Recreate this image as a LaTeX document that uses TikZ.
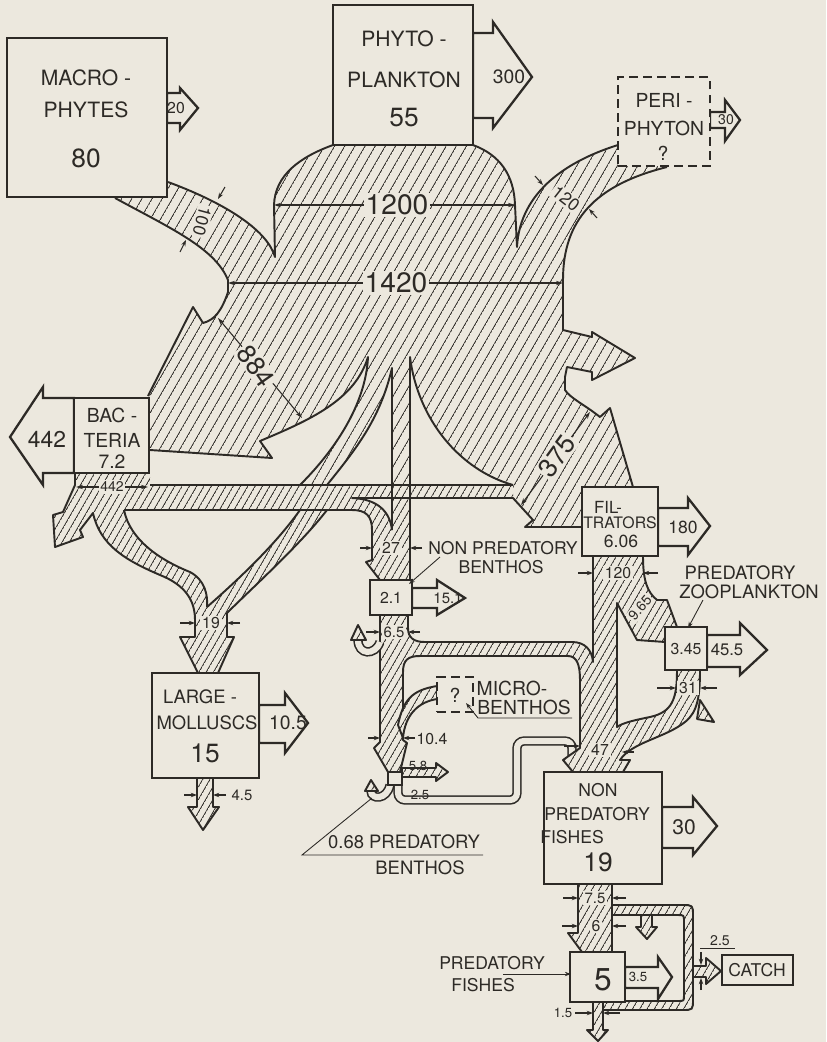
\documentclass[tikz,border=0pt]{standalone}
\usepackage{fontspec}
\setmainfont{TeX Gyre Heros}
\usetikzlibrary{arrows.meta, patterns.meta}
\definecolor{ink}{RGB}{45,42,38}
\definecolor{paper}{RGB}{236,232,222}
\tikzdeclarepattern{
    name=hatch,
    parameters={
        \pgfkeysvalueof{/pgf/pattern keys/size},
        \pgfkeysvalueof{/pgf/pattern keys/angle},
        \pgfkeysvalueof{/pgf/pattern keys/line width},
    },
    bounding box={
        (0,-0.5*\pgfkeysvalueof{/pgf/pattern keys/line width}) and
        (\pgfkeysvalueof{/pgf/pattern keys/size},
         0.5*\pgfkeysvalueof{/pgf/pattern keys/line width})},
    tile size={(\pgfkeysvalueof{/pgf/pattern keys/size},
        \pgfkeysvalueof{/pgf/pattern keys/size})},
    tile transformation={rotate=\pgfkeysvalueof{/pgf/pattern keys/angle}},
    defaults={
        size/.initial=5pt,
        angle/.initial=60,
        line width/.initial=.5pt,
    },
    code={
        \draw[line width=\pgfkeysvalueof{/pgf/pattern keys/line width}]
            (0,0) -- (\pgfkeysvalueof{/pgf/pattern keys/size},0);
    },
}
\tikzset{
    hatchfill/.style={pattern={hatch[size=5pt]}, pattern color=ink},
    bandfill/.style={pattern={hatch[size=3.6pt]}, pattern color=ink},
    rim/.style={draw=ink, line width=1.1pt, line join=round},
    flow/.style={draw=ink, line width=1.1pt, line join=round, preaction={fill=paper},
        pattern={hatch[size=3.6pt]}, pattern color=ink},
    box/.style={draw=ink, line width=1.6pt, fill=paper, inner sep=0pt},
    dashbox/.style={box, dash pattern=on 5pt off 3pt},
    outarrow/.style={draw=ink, line width=1.3pt, fill=paper, line join=miter},
    tube/.style={draw=ink, line width=0.9pt, double=paper, double distance=3.5pt},
    lbl/.style={text=ink, inner sep=0pt, font=\fontsize{#1}{#1}\selectfont},
    tag/.style={lbl=#1, fill=paper, inner sep=1pt},
    wtick/.style={draw=ink, line width=0.6pt, -{Stealth[length=3.5pt,width=2.5pt]}},
    dimline/.style={draw=ink, line width=0.6pt,
        {Stealth[length=4pt,width=2.5pt]}-{Stealth[length=4pt,width=2.5pt]}},
    leader/.style={draw=ink, line width=0.5pt, -{Stealth[length=3.5pt,width=2.5pt]}},
    hair/.style={draw=ink, line width=0.5pt}
}
\begin{document}
\begin{tikzpicture}[x=0.02cm, y=-0.02cm]
    \useasboundingbox (0,0) rectangle (826,1042);
    \fill[paper] (0,0) rectangle (826,1042);

    % big hatched flows
    \fill[hatchfill] (333,145) .. controls (300,157) and (275,175) .. (274,205) -- (275,257)
        .. controls (268,232) and (230,205) .. (168,182) -- (168,198) -- (115,198)
        .. controls (170,228) and (215,248) .. (228,280) -- (228,292)
        .. controls (222,310) and (215,320) .. (203,323) -- (193,307) -- (148,396) -- (150,396)
        -- (150,450) -- (272,458) -- (260,441) .. controls (310,420) and (355,400) .. (368,357)
        .. controls (366,400) and (340,445) .. (300,485) -- (327,485)
        .. controls (355,450) and (380,420) .. (392,368) -- (392,485) -- (410,485) -- (410,357)
        .. controls (418,420) and (460,470) .. (513,485) -- (513,498) -- (533,520) -- (525,527)
        -- (582,527) -- (582,487) -- (633,487) -- (610,408) -- (600,417)
        .. controls (585,405) and (570,398) .. (565,390) -- (565,377) -- (567,367) -- (592,372)
        -- (592,380) -- (635,358) -- (592,332) -- (592,337) -- (563,330) -- (563,280)
        .. controls (563,220) and (595,185) .. (667,167) -- (667,158) -- (625,158) -- (625,145)
        -- (618,145) .. controls (570,160) and (520,190) .. (517,247) -- (515,205)
        .. controls (514,175) and (500,155) .. (473,145) -- cycle;
    \fill[bandfill, even odd rule] (75,473) -- (150,473) -- (150,485) -- (513,485) -- (513,498)
        -- (410,498) -- (410,580) -- (380,580) -- (366,562) -- (372,560) -- (372,530)
        .. controls (372,516) and (366,510) .. (352,510) -- (327,510)
        .. controls (300,545) and (250,590) .. (227,613) -- (227,637) -- (234,637) -- (218,673)
        -- (198,673) -- (180,637) -- (195,637) -- (195,620)
        .. controls (195,600) and (185,585) .. (160,575) .. controls (125,560) and (100,545) .. (93,513)
        -- (80,530) -- (83,537) -- (55,547) -- (53,515) -- (63,512) -- (75,485) -- cycle
        (124,510) -- (300,510) .. controls (275,545) and (240,578) .. (207,607)
        .. controls (208,595) and (205,580) .. (190,572) .. controls (160,560) and (130,540) .. (124,510) -- cycle
        (352,498) -- (392,498) -- (392,530) .. controls (390,512) and (378,499) .. (352,498) -- cycle;

    \draw[rim] (333,145) .. controls (300,157) and (275,175) .. (274,205) -- (275,257)
        .. controls (268,232) and (230,205) .. (168,182);
    \draw[rim] (115,198) .. controls (170,228) and (215,248) .. (228,280) -- (228,292)
        .. controls (222,310) and (215,320) .. (203,323) -- (193,307) -- (148,396);
    \draw[rim] (150,450) -- (272,458) -- (260,441) .. controls (310,420) and (355,400) .. (368,357)
        .. controls (366,400) and (340,445) .. (300,485);
    \draw[rim] (327,485) .. controls (355,450) and (380,420) .. (392,368) -- (392,530);
    \draw[rim] (410,580) -- (410,357) .. controls (418,420) and (460,470) .. (513,485);
    \draw[rim] (150,485) -- (513,485);
    \draw[rim] (124,510) -- (352,510) .. controls (366,510) and (372,516) .. (372,530) -- (372,560)
        -- (366,562) -- (380,580);
    \draw[rim] (392,530) .. controls (390,512) and (378,499) .. (352,498) -- (513,498) -- (533,520)
        -- (525,527) -- (582,527);
    \draw[rim] (300,510) .. controls (275,545) and (240,578) .. (207,607);
    \draw[rim] (327,510) .. controls (300,545) and (250,590) .. (227,613) -- (227,637) -- (234,637)
        -- (218,673);
    \draw[rim] (124,510) .. controls (130,540) and (160,560) .. (190,572)
        .. controls (205,580) and (208,595) .. (207,607);
    \draw[rim] (198,673) -- (180,637) -- (195,637) -- (195,620)
        .. controls (195,600) and (185,585) .. (160,575) .. controls (125,560) and (100,545) .. (93,513)
        -- (80,530) -- (83,537) -- (55,547) -- (53,515) -- (63,512) -- (75,485) -- (75,473);
    \draw[rim] (633,487) -- (610,408) -- (600,417) .. controls (585,405) and (570,398) .. (565,390)
        -- (565,377) -- (567,367) -- (592,372) -- (592,380) -- (635,358) -- (592,332) -- (592,337)
        -- (563,330) -- (563,280) .. controls (563,220) and (595,185) .. (667,167);
    \draw[rim] (618,145) .. controls (570,160) and (520,190) .. (517,247) -- (515,205)
        .. controls (514,175) and (500,155) .. (473,145);

    \draw[dimline] (274,205) -- (515,205);
    \node[tag=16pt] (l1200) at (397,205) {1200};
    \draw[dimline] (228,283) -- (563,283);
    \node[tag=16pt] (l1420) at (396,283) {1420};
    \draw[dimline] (218,318) -- (302,418);
    \node[tag=15pt, rotate=-55] (l884) at (256,366) {884};
    \draw[dimline] (590,412) -- (521,505);
    \node[tag=15pt, rotate=54] (l375) at (557,456) {375};
    \draw[wtick] (225,187) -- (218,199);
    \draw[wtick] (180,252) -- (186,240);
    \node[tag=10pt, rotate=-105] (l100) at (202,221) {100};
    \draw[wtick] (535,176) -- (543,185);
    \draw[wtick] (597,218) -- (589,209);
    \node[tag=10pt, rotate=-38] (l120a) at (566,199) {120};
    \draw[dimline] (76,487) -- (148,487);
    \node[tag=8pt] (l442b) at (112,487) {442};

    % flows of the lower part
    \draw[tube, rounded corners=4pt] (398,785) |- (517,800) -- (517,741) -- (572,741) -- (572,756);
    \draw[flow] (593,556) -- (593,662) .. controls (592,650) and (585,642) .. (572,642) -- (425,642)
        .. controls (414,642) and (408,638) .. (408,628) -- (408,615) -- (380,615) -- (380,742)
        -- (374,748) -- (388,772) -- (400,772) -- (407,743) -- (403,740) -- (403,672)
        .. controls (403,660) and (408,656) .. (420,656) -- (568,656)
        .. controls (577,656) and (580,665) .. (580,680) -- (580,748) -- (563,760) -- (573,772)
        -- (623,772) -- (630,760) -- (620,760) .. controls (632,742) and (665,738) .. (685,722)
        .. controls (698,712) and (700,695) .. (700,670) -- (677,670)
        .. controls (677,700) and (672,712) .. (650,717) .. controls (635,720) and (622,723) .. (617,727)
        -- (617,603) -- (637,640) -- (665,642) -- (665,627) -- (677,627) -- (667,600) -- (657,600)
        .. controls (647,592) and (643,580) .. (643,556) -- cycle;
    \draw[flow] (437,686) .. controls (412,690) and (403,700) .. (398,725) -- (403,738)
        .. controls (405,715) and (418,702) .. (437,699) -- cycle;
    \draw[tube] (380,642) .. controls (375,656) and (358,655) .. (358,640);
    \draw[flow] (351,640) -- (358,625) -- (366,640) -- cycle;
    \draw[tube] (390,785) .. controls (387,800) and (371,800) .. (371,791);
    \draw[flow] (365,791) -- (371,780) -- (378,791) -- cycle;
    \draw[flow] (402,768) -- (436,768) -- (436,763) -- (448,772) -- (436,781) -- (436,777)
        -- (402,777) -- cycle;
    \draw[flow] (197,778) -- (197,807) -- (188,807) -- (203,830) -- (219,807) -- (213,807)
        -- (213,778) -- cycle;
    \draw[flow] (578,884) -- (578,933) -- (568,933) -- (582,952) -- (612,952) -- (612,884) -- cycle;
    \draw[flow] (593,1002) -- (593,1030) -- (587,1030) -- (598,1041) -- (608,1030) -- (603,1030)
        -- (603,1002) -- cycle;
    \draw[flow] (612,905) -- (682,905) .. controls (693,905) .. (693,916) -- (693,999)
        .. controls (693,1010) .. (682,1010) -- (603,1010) -- (603,1001) -- (678,1001)
        .. controls (684,1001) .. (684,995) -- (684,922) .. controls (684,915) .. (678,915)
        -- (612,915) -- cycle;
    \draw[flow] (641,915) -- (641,927) -- (636,927) -- (647,939) -- (657,927) -- (652,927)
        -- (652,915) -- cycle;
    \draw[flow] (693,966) -- (706,966) -- (706,958) -- (721,971) -- (706,984) -- (706,977)
        -- (693,977) -- cycle;
    \draw[flow] (700,700) -- (714,722) -- (697,719) -- cycle;

    % outputs
    \draw[outarrow] (167,93) -- (180,93) -- (180,88) -- (198,108) -- (180,130) -- (180,123) -- (167,123) -- cycle;
    \draw[outarrow] (473,33) -- (493,33) -- (493,22) -- (532,77) -- (493,128) -- (493,118) -- (473,118) -- cycle;
    \draw[outarrow] (710,112) -- (725,112) -- (725,100) -- (740,120) -- (725,141) -- (725,128) -- (710,128) -- cycle;
    \draw[outarrow] (74,398) -- (43,398) -- (43,387) -- (10,437) -- (43,485) -- (43,473) -- (74,473) -- cycle;
    \draw[outarrow] (658,508) -- (688,508) -- (688,498) -- (710,526) -- (688,555) -- (688,546) -- (658,546) -- cycle;
    \draw[outarrow] (412,588) -- (437,588) -- (437,580) -- (465,598) -- (437,615) -- (437,608) -- (412,608) -- cycle;
    \draw[outarrow] (259,705) -- (285,705) -- (285,693) -- (308,723) -- (285,753) -- (285,743) -- (259,743) -- cycle;
    \draw[outarrow] (707,635) -- (740,635) -- (740,623) -- (767,650) -- (740,675) -- (740,667) -- (707,667) -- cycle;
    \draw[outarrow] (662,807) -- (693,807) -- (693,797) -- (717,826) -- (693,855) -- (693,848) -- (662,848) -- cycle;
    \draw[outarrow] (625,967) -- (658,967) -- (658,957) -- (672,977) -- (658,999) -- (658,988) -- (625,988) -- cycle;

    % compartments
    \node[box, minimum width=3.2cm, minimum height=3.18cm] (macro) at (87,117.5) {};
    \node[box, minimum width=2.8cm, minimum height=2.8cm] (phyto) at (403,75) {};
    \node[dashbox, minimum width=1.84cm, minimum height=1.78cm] (peri) at (664,121.5) {};
    \node[box, minimum width=1.5cm, minimum height=1.5cm] (bact) at (111.5,435.5) {};
    \node[box, minimum width=1.52cm, minimum height=1.38cm] (filt) at (620,521.5) {};
    \node[box, minimum width=0.84cm, minimum height=0.7cm] (nbenth) at (391,597.5) {};
    \node[box, minimum width=2.14cm, minimum height=2.1cm] (moll) at (205.5,725.5) {};
    \node[dashbox, line width=1.3pt, minimum width=0.72cm, minimum height=0.7cm] (micro) at (455,694.5) {};
    \node[box, line width=1.3pt, minimum width=0.28cm, minimum height=0.26cm] (pbenth) at (395,778.5) {};
    \node[box, minimum width=0.84cm, minimum height=0.86cm] (pzoo) at (686,648.5) {};
    \node[box, minimum width=2.36cm, minimum height=2.24cm] (npf) at (603,828) {};
    \node[box, minimum width=1.1cm, minimum height=1.0cm] (pf) at (597.5,977) {};
    \node[box, line width=1.3pt, minimum width=1.42cm, minimum height=0.6cm] (catch) at (757.5,970) {};

    \node[lbl=12pt] (tmacro1) at (86,78) {MACRO -};
    \node[lbl=12pt] (tmacro2) at (86,110) {PHYTES};
    \node[lbl=15pt] (tmacro3) at (86,158) {80};
    \node[lbl=12pt] (tphyto1) at (404,39) {PHYTO -};
    \node[lbl=12pt] (tphyto2) at (404,80) {PLANKTON};
    \node[lbl=15pt] (tphyto3) at (404,118) {55};
    \node[lbl=11pt] (t300) at (509,77) {300};
    \node[lbl=9pt] (t20) at (176,108) {20};
    \node[lbl=11pt] (tperi1) at (664,100) {PERI -};
    \node[lbl=11pt] (tperi2) at (664,128) {PHYTON};
    \node[lbl=11pt] (tperi3) at (663,153) {?};
    \node[lbl=8pt] (t30p) at (726,120) {30};
    \node[lbl=11pt] (tbac1) at (112,415) {BAC -};
    \node[lbl=11pt] (tbac2) at (112,440) {TERIA};
    \node[lbl=11pt] (tbac3) at (112,462) {7.2};
    \node[lbl=13pt] (t442) at (47,439) {442};
    \node[lbl=10.5pt] (tmol1) at (200,697) {LARGE -};
    \node[lbl=10.5pt] (tmol2) at (207,723) {MOLLUSCS};
    \node[lbl=15pt] (tmol3) at (205,753) {15};
    \node[lbl=11pt] (t105) at (288,723) {10.5};
    \node[lbl=10pt] (tnb1) at (503,548) {NON PREDATORY};
    \node[lbl=10pt] (tnb2) at (501,567) {BENTHOS};
    \node[lbl=9pt] (t21) at (391,598) {2.1};
    \node[lbl=8.5pt] (t151) at (448,598) {15.1};
    \node[lbl=11pt] (tmicro) at (455,695) {?};
    \node[lbl=11pt] (tmb1) at (512,688) {MICRO-};
    \node[lbl=11pt] (tmb2) at (524,707) {BENTHOS};
    \node[lbl=7.5pt] (t58) at (418,766) {5.8};
    \node[lbl=7.5pt] (t25a) at (420,795) {2.5};
    \node[lbl=10.5pt] (tpb1) at (404,842) {0.68 PREDATORY};
    \node[lbl=10.5pt] (tpb2) at (420,868) {BENTHOS};
    \node[lbl=9.5pt] (tfil1) at (608,507) {FIL-};
    \node[lbl=9pt] (tfil2) at (620,523) {TRATORS};
    \node[lbl=10pt] (tfil3) at (621,541) {6.06};
    \node[lbl=10pt] (t180) at (683,527) {180};
    \node[lbl=10.5pt] (tpz1) at (740,573) {PREDATORY};
    \node[lbl=10.5pt] (tpz2) at (749,592) {ZOOPLANKTON};
    \node[lbl=9pt] (t345) at (686,649) {3.45};
    \node[lbl=9.5pt] (t455) at (727,650) {45.5};
    \node[lbl=10pt] (tnpf1) at (598,790) {NON};
    \node[lbl=10pt] (tnpf2) at (597,814) {PREDATORY};
    \node[lbl=10pt] (tnpf3) at (572,837) {FISHES};
    \node[lbl=15pt] (tnpf4) at (598,862) {19};
    \node[lbl=12pt] (t30n) at (684,827) {30};
    \node[lbl=10pt] (tpf1) at (492,963) {PREDATORY};
    \node[lbl=10pt] (tpf2) at (483,985) {FISHES};
    \node[lbl=18pt] (tpf3) at (603,980) {5};
    \node[lbl=7.5pt] (t35) at (638,977) {3.5};
    \node[lbl=10pt] (tcatch) at (757,970) {CATCH};

    % widths of the smaller flows
    \draw[wtick] (180,623) -- (195,623);
    \draw[wtick] (240,623) -- (227,623);
    \node[tag=9pt] (l19) at (211,623) {19};
    \draw[wtick] (184,795) -- (197,795);
    \draw[wtick] (226,795) -- (213,795);
    \node[lbl=8.5pt] (l45) at (242,795) {4.5};
    \draw[wtick] (360,548) -- (372,548);
    \draw[wtick] (422,548) -- (410,548);
    \node[tag=9pt] (l27) at (391,548) {27};
    \draw[wtick] (366,632) -- (380,632);
    \draw[wtick] (420,632) -- (408,632);
    \node[tag=8.5pt] (l65) at (394,632) {6.5};
    \draw[wtick] (368,738) -- (380,738);
    \draw[wtick] (415,738) -- (403,738);
    \node[lbl=9pt] (l104) at (432,739) {10.4};
    \draw[wtick] (578,573) -- (593,573);
    \draw[wtick] (658,573) -- (643,573);
    \node[tag=9pt] (l120b) at (618,573) {120};
    \node[tag=8pt, rotate=50] (l965) at (640,608) {9.65};
    \draw[wtick] (657,688) -- (676,688);
    \draw[wtick] (717,688) -- (700,688);
    \node[tag=9pt] (l31) at (688,688) {31};
    \draw[wtick] (564,746) -- (580,746);
    \draw[wtick] (634,752) -- (622,752);
    \node[tag=9pt] (l47) at (600,750) {47};
    \draw[wtick] (563,898) -- (578,898);
    \draw[wtick] (626,898) -- (612,898);
    \node[tag=8.5pt] (l75) at (595,898) {7.5};
    \draw[wtick] (562,926) -- (578,926);
    \draw[wtick] (626,926) -- (612,926);
    \node[tag=9pt] (l6) at (596,926) {6};
    \draw[wtick] (575,1013) -- (593,1013);
    \draw[wtick] (620,1013) -- (603,1013);
    \node[lbl=7.5pt] (l15) at (563,1013) {1.5};
    \draw[hair] (700,948) -- (735,948);
    \node[lbl=8pt] (l25b) at (720,941) {2.5};
    \draw[wtick] (701,952) -- (701,965);
    \draw[wtick] (701,990) -- (701,978);

    % pointers to the names
    \draw[leader] (440,557) -- (409,584);
    \draw[leader] (572,718) -- (478,718) -- (466,703);
    \draw[leader] (703,600) -- (688,628);
    \draw[hair] (483,855) -- (302,855) -- (372,798);
    \draw[leader] (503,974) -- (571,974);
\end{tikzpicture}
\end{document}
